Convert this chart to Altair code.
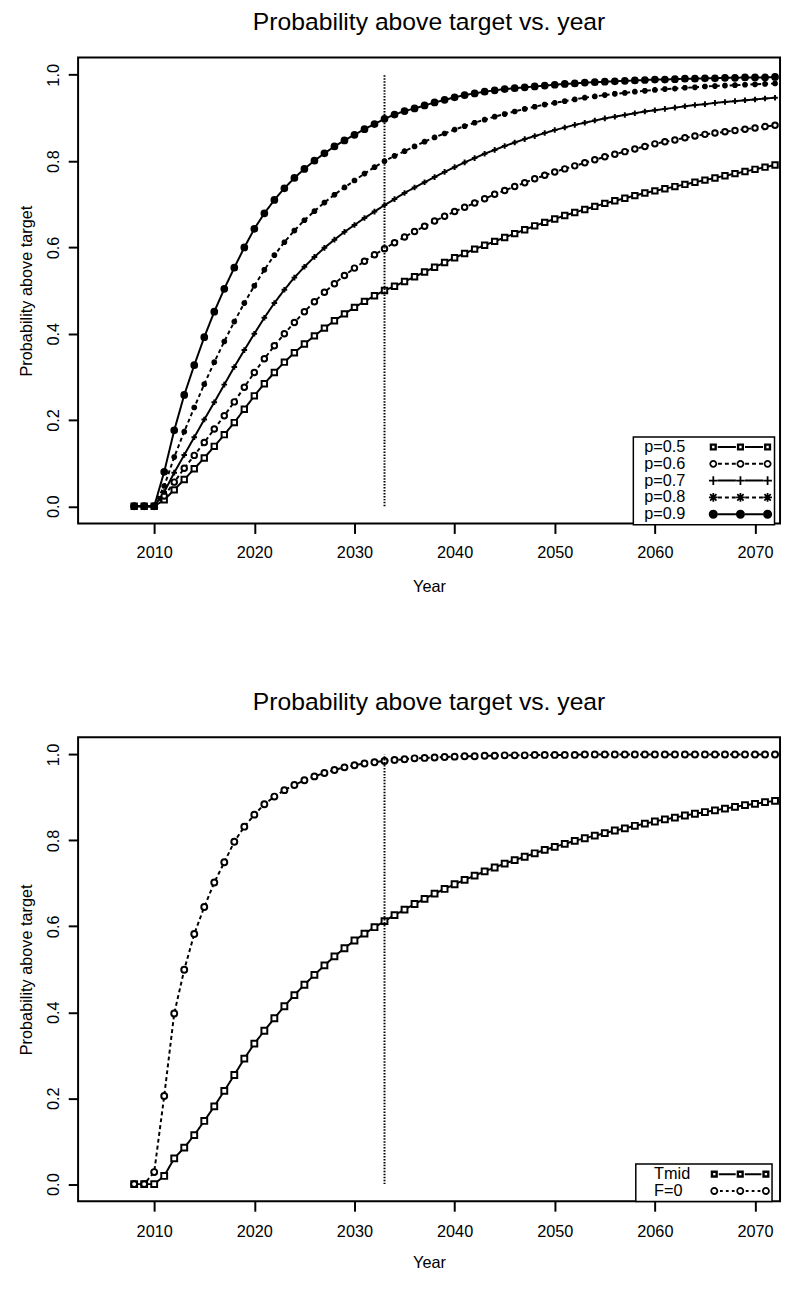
import altair as alt
import pandas as pd

# ---------------- data ----------------
YEARS = list(range(2008, 2073))
TOP_SERIES = ["p=0.5", "p=0.6", "p=0.7", "p=0.8", "p=0.9"]
P05 = [0, 0, 0,
       0.015, 0.038, 0.062, 0.087, 0.112, 0.139, 0.166, 0.194, 0.225, 0.256,
       0.284, 0.310, 0.334, 0.356, 0.376, 0.395, 0.413, 0.430, 0.446, 0.461, 0.475, 0.488, 0.500,
       0.510, 0.521, 0.532, 0.543, 0.554, 0.565, 0.576, 0.586, 0.596, 0.605,
       0.614, 0.623, 0.632, 0.641, 0.650, 0.658, 0.666, 0.674, 0.681, 0.688,
       0.695, 0.702, 0.708, 0.714, 0.720, 0.726, 0.731, 0.736, 0.741, 0.746,
       0.751, 0.756, 0.761, 0.766, 0.771, 0.776, 0.781, 0.786, 0.791]
P06 = [0, 0, 0,
       0.024, 0.056, 0.088, 0.118, 0.148, 0.179, 0.210, 0.242, 0.276, 0.310,
       0.342, 0.372, 0.400, 0.426, 0.451, 0.474, 0.496, 0.516, 0.535, 0.552, 0.568, 0.583, 0.597,
       0.611, 0.624, 0.637, 0.649, 0.661, 0.672, 0.683, 0.693, 0.703, 0.713,
       0.723, 0.732, 0.741, 0.750, 0.759, 0.767, 0.775, 0.782, 0.789, 0.796,
       0.803, 0.810, 0.816, 0.822, 0.828, 0.834, 0.840, 0.845, 0.849, 0.854,
       0.858, 0.862, 0.865, 0.868, 0.871, 0.874, 0.877, 0.880, 0.883]
P07 = [0, 0, 0,
       0.033, 0.078, 0.119, 0.160, 0.201, 0.241, 0.282, 0.323, 0.362, 0.400,
       0.437, 0.471, 0.502, 0.530, 0.555, 0.578, 0.599, 0.618, 0.636, 0.652, 0.668, 0.683, 0.698,
       0.712, 0.726, 0.739, 0.751, 0.763, 0.775, 0.786, 0.797, 0.807, 0.817,
       0.826, 0.835, 0.843, 0.851, 0.858, 0.865, 0.872, 0.878, 0.884, 0.889,
       0.894, 0.899, 0.903, 0.907, 0.911, 0.915, 0.918, 0.921, 0.924, 0.927,
       0.930, 0.932, 0.935, 0.937, 0.939, 0.941, 0.943, 0.945, 0.947]
P08 = [0, 0, 0,
       0.047, 0.114, 0.173, 0.229, 0.283, 0.334, 0.382, 0.428, 0.471, 0.511,
       0.548, 0.582, 0.612, 0.639, 0.663, 0.684, 0.704, 0.722, 0.739, 0.755, 0.771, 0.786, 0.800,
       0.812, 0.823, 0.834, 0.845, 0.855, 0.864, 0.873, 0.881, 0.889, 0.896,
       0.903, 0.909, 0.915, 0.921, 0.926, 0.931, 0.935, 0.939, 0.943, 0.947,
       0.950, 0.953, 0.956, 0.958, 0.961, 0.963, 0.965, 0.967, 0.968, 0.970,
       0.971, 0.973, 0.974, 0.975, 0.976, 0.977, 0.978, 0.979, 0.980]
P09 = [0, 0, 0,
       0.080, 0.176, 0.258, 0.327, 0.392, 0.451, 0.504, 0.553, 0.600, 0.643,
       0.679, 0.710, 0.737, 0.761, 0.782, 0.801, 0.818, 0.834, 0.848, 0.861, 0.874, 0.886, 0.898,
       0.908, 0.916, 0.922, 0.929, 0.936, 0.942, 0.948, 0.953, 0.957, 0.961,
       0.964, 0.967, 0.969, 0.971, 0.973, 0.975, 0.977, 0.979, 0.980, 0.982,
       0.983, 0.984, 0.985, 0.986, 0.987, 0.988, 0.989, 0.989, 0.990, 0.991,
       0.991, 0.992, 0.992, 0.993, 0.993, 0.994, 0.994, 0.994, 0.995]

BOTTOM_SERIES = ["Tmid", "F=0"]
TMID = [0, 0, 0,
        0.019, 0.060, 0.085, 0.114, 0.147, 0.181, 0.217, 0.254, 0.292, 0.327,
        0.357, 0.386, 0.414, 0.440, 0.464, 0.487, 0.509, 0.530, 0.549, 0.567, 0.583, 0.598, 0.612,
        0.626, 0.639, 0.652, 0.664, 0.676, 0.687, 0.698, 0.708, 0.718, 0.728,
        0.737, 0.746, 0.754, 0.762, 0.770, 0.778, 0.785, 0.792, 0.799, 0.805,
        0.811, 0.817, 0.823, 0.828, 0.834, 0.839, 0.844, 0.849, 0.853, 0.858,
        0.862, 0.866, 0.870, 0.874, 0.878, 0.882, 0.885, 0.889, 0.892]
F0 = [0, 0, 0.028,
      0.205, 0.397, 0.499, 0.582, 0.645, 0.702, 0.749, 0.797, 0.832, 0.860,
      0.884, 0.902, 0.917, 0.929, 0.940, 0.949, 0.957, 0.964, 0.970, 0.975, 0.979, 0.982, 0.985,
      0.987, 0.989, 0.991, 0.992, 0.993, 0.994, 0.995, 0.996, 0.996, 0.997,
      0.997, 0.998, 0.998, 0.998, 0.999, 0.999, 0.999, 0.999, 0.999, 1.0,
      1.0, 1.0, 1.0, 1.0, 1.0, 1.0, 1.0, 1.0, 1.0, 1.0,
      1.0, 1.0, 1.0, 1.0, 1.0, 1.0, 1.0, 1.0, 1.0]

TARGET_YEAR = [2033]
RULE_LO = [0.0]
RULE_HI = [1.0]

TITLE = "Probability above target vs. year"
X_TITLE = "Year"
Y_TITLE = "Probability above target"
X_TICKS = [2010, 2020, 2030, 2040, 2050, 2060, 2070]
Y_TICKS = [0.0, 0.2, 0.4, 0.6, 0.8, 1.0]

# ---------------- style ----------------
FONT = "Liberation Sans"
W = 711
X_DOMAIN = [2002.4, 2072.5]
Y_DOMAIN = [-0.04, 1.04]

PLUS = "M-1,0L1,0M0,-1L0,1"
STAR = "M-1,0L1,0M0,-1L0,1M-0.72,-0.72L0.72,0.72M-0.72,0.72L0.72,-0.72"

U = 2.0  # legend symbol unit (px) for size 16


def _circle(cx, r, sweep):
    return (f"M{cx - r:.3f},0A{r},{r} 0 1,{sweep} {cx + r:.3f},0"
            f"A{r},{r} 0 1,{sweep} {cx - r:.3f},0Z")


def _rect(x0, x1, y0, y1):
    return f"M{x0:.3f},{y0:.3f}H{x1:.3f}V{y1:.3f}H{x0:.3f}Z"


def _poly(pts):
    return "M" + "L".join(f"{x:.3f},{y:.3f}" for x, y in pts) + "Z"


def _marker(kind, cx):
    if kind == "square":
        h, hi = 1.8, 0.6
        return (_rect(cx - h, cx + h, -h, h)
                + f"M{cx - hi:.3f},{-hi}V{hi}H{cx + hi:.3f}V{-hi}Z")
    if kind == "ring":
        return _circle(cx, 2.0, 0) + _circle(cx, 1.1, 1)
    if kind == "dot":
        return _circle(cx, 2.3, 0)
    t = 0.45
    p = _rect(cx - 2.2, cx + 2.2, -t, t) + _rect(cx - t, cx + t, -2.2, 2.2)
    if kind == "star":
        a, d = 1.6, t * 0.7071
        p += _poly([(cx - a + d, -a - d), (cx + a + d, a - d), (cx + a - d, a + d), (cx - a - d, -a + d)])
        p += _poly([(cx - a - d, a - d), (cx + a - d, -a - d), (cx + a + d, -a + d), (cx - a + d, a + d)])
    return p


def _connector(style, a, b):
    g = 2.3
    t = 0.5
    x0, x1 = a + g, b - g
    if style == "solid":
        return _rect(x0, x1, -t, t)
    dash, space = (2.0, 1.5) if style == "dashed" else (1.4, 1.6)
    total = 3 * dash + 2 * space
    s = (x0 + x1) / 2 - total / 2
    out = ""
    for i in range(3):
        out += _rect(s, s + dash, -t, t)
        s += dash + space
    return out


def legend_symbol(kind, style, centers_px):
    cs = [c / U for c in centers_px]
    path = "".join(_marker(kind, c) for c in cs)
    for a, b in zip(cs[:-1], cs[1:]):
        path += _connector(style, a, b)
    return path


def long_df(names, arrays):
    rows = []
    for name, vals in zip(names, arrays):
        for yr, v in zip(YEARS, vals):
            rows.append({"year": yr, "prob": v, "series": name})
    return pd.DataFrame(rows)


xs = alt.Scale(domain=X_DOMAIN, nice=False, zero=False)
ys = alt.Scale(domain=Y_DOMAIN, nice=False, zero=False)
y_axis = alt.Axis(values=Y_TICKS, format=".1f", title=Y_TITLE, labelAngle=-90,
                  labelAlign="center", labelBaseline="bottom", labelPadding=6.4,
                  titlePadding=12.2, labelFlush=False)


def panel(df, names, shapes, fills, sizes, dashes, leg_paths, leg_x, leg_y,
          height, label_pad, title_pad, leg_align, leg_offset):
    x_axis = alt.Axis(values=X_TICKS, format="d", title=X_TITLE, labelPadding=label_pad,
                      titlePadding=title_pad, labelFlush=False, labelAngle=0)
    X = alt.X("year:Q", scale=xs, axis=x_axis)
    Y = alt.Y("prob:Q", scale=ys, axis=y_axis)
    base = alt.Chart(df)
    lines = base.mark_line(color="black", strokeWidth=2).encode(
        x=X, y=Y,
        strokeDash=alt.StrokeDash("series:N", scale=alt.Scale(domain=names, range=dashes), legend=None),
    )
    points = base.mark_point(filled=True, stroke="black", strokeWidth=2, opacity=1).encode(
        x=X, y=Y,
        shape=alt.Shape("series:N", scale=alt.Scale(domain=names, range=shapes), legend=None),
        fill=alt.Fill("series:N", scale=alt.Scale(domain=names, range=fills), legend=None),
        size=alt.Size("series:N", scale=alt.Scale(domain=names, range=sizes), legend=None),
    )
    rule_df = pd.DataFrame({"year": TARGET_YEAR, "prob": RULE_LO, "prob2": RULE_HI})
    rule = alt.Chart(rule_df).mark_rule(color="black", strokeWidth=2, strokeDash=[1.5, 1.5]).encode(
        x=X, y=Y, y2="prob2:Q"
    )
    leg = base.transform_filter("false").mark_point(
        filled=True, fill="black", stroke="black", strokeWidth=0, size=16, opacity=1
    ).encode(
        x=X, y=Y,
        shape=alt.Shape("series:N", scale=alt.Scale(domain=names, range=leg_paths),
                        legend=alt.Legend(title=None, orient="none", legendX=leg_x, legendY=leg_y,
                                          padding=2, strokeColor="black", fillColor="white",
                                          labelFontSize=16.5, labelFont=FONT, labelColor="black",
                                          labelAlign=leg_align, labelOffset=leg_offset,
                                          rowPadding=0, symbolSize=16,
                                          symbolStrokeWidth=0, labelLimit=300)),
    )
    return alt.layer(lines, points, rule, leg).resolve_scale(shape="independent").properties(
        width=W, height=height, title=alt.TitleParams(TITLE)
    )


top_df = long_df(TOP_SERIES, [P05, P06, P07, P08, P09])
top_kinds = [("square", "solid"), ("ring", "dashed"), ("plus", "solid"), ("star", "dashed"), ("dot", "solid")]
top_leg = [legend_symbol(k, s, [70.75, 98.25, 125.75]) for k, s in top_kinds]
top = panel(top_df, TOP_SERIES,
            ["square", "circle", PLUS, STAR, "circle"],
            ["white", "white", "white", "white", "black"],
            [30, 36, 100, 121, 64],
            [[1, 0], [4, 3], [1, 0], [4, 3], [1, 0]],
            top_leg, 562.4, 384.25, 472, 11.8, 17.8, "right", 34.2)

bot_df = long_df(BOTTOM_SERIES, [TMID, F0])
bot_kinds = [("square", "solid"), ("ring", "dotted")]
bot_leg = [legend_symbol(k, s, [69.25, 95.55, 121.55]) for k, s in bot_kinds]
bottom = panel(bot_df, BOTTOM_SERIES,
               ["square", "circle"],
               ["white", "white"],
               [30, 36],
               [[1, 0], [2, 3]],
               bot_leg, 564.9, 432.25, 470, 12.3, 14.8, "left", 0)

chart = alt.vconcat(top, bottom, spacing=93.5).properties(
    padding={"left": 9, "top": -7, "right": 0, "bottom": 0},
    background="white",
).configure(font=FONT).configure_view(
    stroke="black", strokeWidth=2
).configure_axis(
    grid=False, domain=False, tickColor="black", tickWidth=2, tickSize=10,
    labelColor="black", labelFontSize=16.5, labelFont=FONT,
    titleFont=FONT, titleFontSize=16.5, titleFontWeight="normal", titleColor="black",
).configure_title(
    fontSize=25, fontWeight="normal", color="black", anchor="middle", frame="group",
    offset=22.7, font=FONT,
).configure_legend(strokeWidth=1.5)

chart.save("out.html", embed_options={"renderer": "svg", "actions": False})
